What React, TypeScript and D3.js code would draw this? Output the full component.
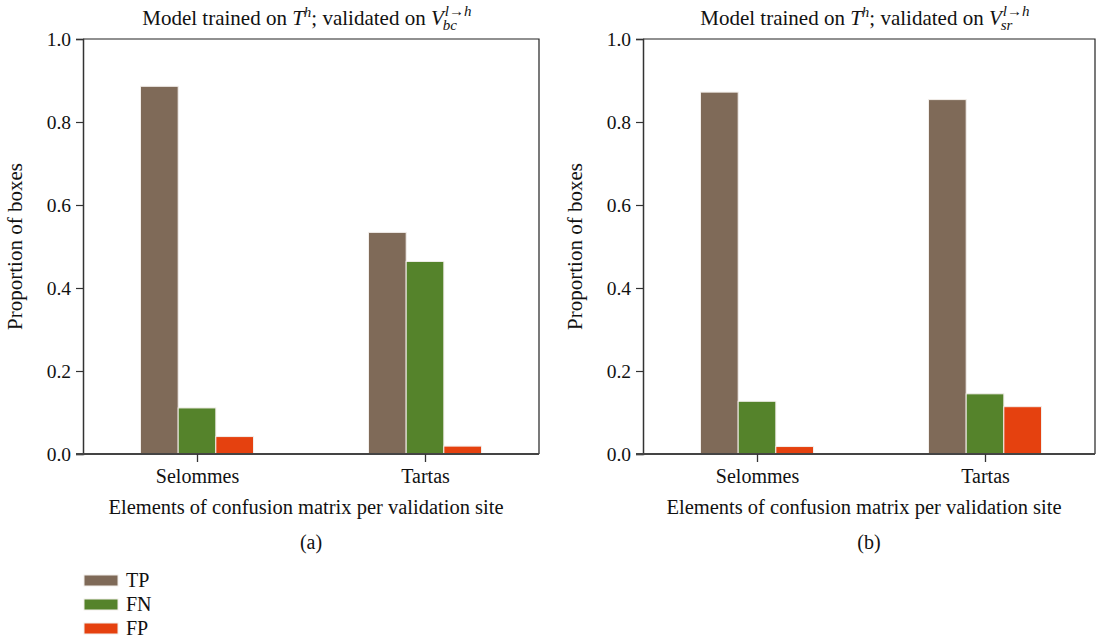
import { useEffect, useRef } from "react";
import * as d3 from "d3";

const sites = ["Selommes", "Tartas"];
const keys = ["TP", "FN", "FP"];
const colors = ["#7f6a58", "#55832b", "#e5410f"];
const yTicks = [0, 0.2, 0.4, 0.6, 0.8, 1.0];

// panel (a): validated on V_bc
const valuesA = [
  [0.886, 0.111, 0.042],
  [0.534, 0.464, 0.019],
];
// panel (b): validated on V_sr
const valuesB = [
  [0.872, 0.127, 0.018],
  [0.854, 0.145, 0.114],
];

const panels = [
  { values: valuesA, sub: "bc", tag: "(a)", left: 83, right: 539 },
  { values: valuesB, sub: "sr", tag: "(b)", left: 643, right: 1099 },
];

const FONT = "'Liberation Serif', 'Times New Roman', serif";

export default function App() {
  const ref = useRef<SVGSVGElement>(null);

  useEffect(() => {
    const svg = d3.select(ref.current);
    svg.selectAll("*").remove();
    svg.style("font-family", FONT);

    const top = 39;
    const bottom = 454;
    const y = d3.scaleLinear().domain([0, 1]).range([bottom, top]);

    panels.forEach((p) => {
      const g = svg.append("g");
      const x = d3.scalePoint<string>().domain(sites).range([p.left, p.right]).padding(0.5);
      const inner = d3.scaleBand<string>().domain(keys).range([-56.5, 56.5]).padding(0);
      const frameRight = Math.min(p.right, 1095);

      // frame top/right
      g.append("path")
        .attr("d", `M${p.left},${top}H${frameRight}V${bottom}`)
        .attr("fill", "none")
        .attr("stroke", "#222")
        .attr("stroke-width", 1.2);

      // bars
      sites.forEach((s, i) => {
        g.selectAll(null)
          .data(p.values[i])
          .enter()
          .append("rect")
          .attr("x", (_d, j) => (x(s) as number) + (inner(keys[j]) as number))
          .attr("y", (d) => y(d))
          .attr("width", inner.bandwidth())
          .attr("height", (d) => bottom - y(d))
          .attr("fill", (_d, j) => colors[j])
          .attr("stroke", "#f2eeea")
          .attr("stroke-width", 1);
      });

      // y axis
      const ya = g.append("g")
        .attr("transform", `translate(${p.left},0)`)
        .call(d3.axisLeft(y).tickValues(yTicks).tickFormat(d3.format(".1f")).tickSize(7).tickPadding(5));
      ya.select(".domain").attr("stroke", "#333").attr("stroke-width", 1.5);
      ya.selectAll(".tick line").attr("stroke", "#333").attr("stroke-width", 1.2);
      ya.selectAll(".tick text")
        .attr("fill", "#111")
        .style("font-size", "19.5px")
        .style("font-family", FONT);

      // x axis
      const xa = g.append("g")
        .attr("transform", `translate(0,${bottom})`)
        .call(d3.axisBottom(x).tickSize(8).tickPadding(7).tickSizeOuter(0));
      xa.select(".domain").attr("d", `M${p.left - 7},0H${frameRight}`).attr("stroke", "#444").attr("stroke-width", 2);
      xa.selectAll(".tick line").attr("stroke", "#333").attr("stroke-width", 1.3);
      xa.selectAll(".tick text")
        .attr("fill", "#111")
        .style("font-size", "20px")
        .style("font-family", FONT);

      const cx = (p.left + frameRight) / 2;

      g.append("text")
        .attr("x", cx - 5)
        .attr("y", 514)
        .attr("text-anchor", "middle")
        .attr("fill", "#111")
        .style("font-size", "20.5px")
        .text("Elements of confusion matrix per validation site");

      g.append("text")
        .attr("x", cx)
        .attr("y", 549)
        .attr("text-anchor", "middle")
        .attr("fill", "#111")
        .style("font-size", "20px")
        .text(p.tag);

      g.append("text")
        .attr("transform", `translate(${p.left - 61},${(top + bottom) / 2}) rotate(-90)`)
        .attr("text-anchor", "middle")
        .attr("fill", "#111")
        .style("font-size", "21px")
        .text("Proportion of boxes");

      // title with super/subscripts
      const tg = g.append("g");
      const base = 25;
      const t = tg.append("text").attr("x", 0).attr("y", base).attr("fill", "#111").style("font-size", "21px");
      t.append("tspan").text("Model trained on ");
      t.append("tspan").style("font-style", "italic").text("T");
      t.append("tspan").attr("dy", -8).style("font-size", "15px").style("font-style", "italic").text("h");
      t.append("tspan").attr("dy", 8).text("; validated on ");
      t.append("tspan").style("font-style", "italic").text("V");
      const w = (t.node() as SVGTextElement).getComputedTextLength();
      tg.append("text")
        .attr("x", w + 1)
        .attr("y", base - 9)
        .attr("fill", "#111")
        .style("font-size", "15px")
        .style("font-style", "italic")
        .text("l\u2192h");
      tg.append("text")
        .attr("x", w - 1)
        .attr("y", base + 5)
        .attr("fill", "#111")
        .style("font-size", "15px")
        .style("font-style", "italic")
        .text(p.sub);
      const tw = w + 32;
      tg.attr("transform", `translate(${cx - 2 - tw / 2},0)`);
    });

    // legend
    const lg = svg.append("g").attr("transform", "translate(84,575)");
    keys.forEach((k, i) => {
      lg.append("rect")
        .attr("x", 0)
        .attr("y", i * 24)
        .attr("width", 34)
        .attr("height", 11)
        .attr("fill", colors[i])
        .attr("stroke", "#f2eeea")
        .attr("stroke-width", 1);
      lg.append("text")
        .attr("x", 42)
        .attr("y", i * 24 + 12)
        .attr("fill", "#111")
        .style("font-size", "20px")
        .text(k);
    });
  }, []);

  return (
    <div style={{ position: "absolute", left: 0, top: 0 }}>
      <svg ref={ref} width={1097} height={639} style={{ display: "block", background: "#fff" }} />
    </div>
  );
}
